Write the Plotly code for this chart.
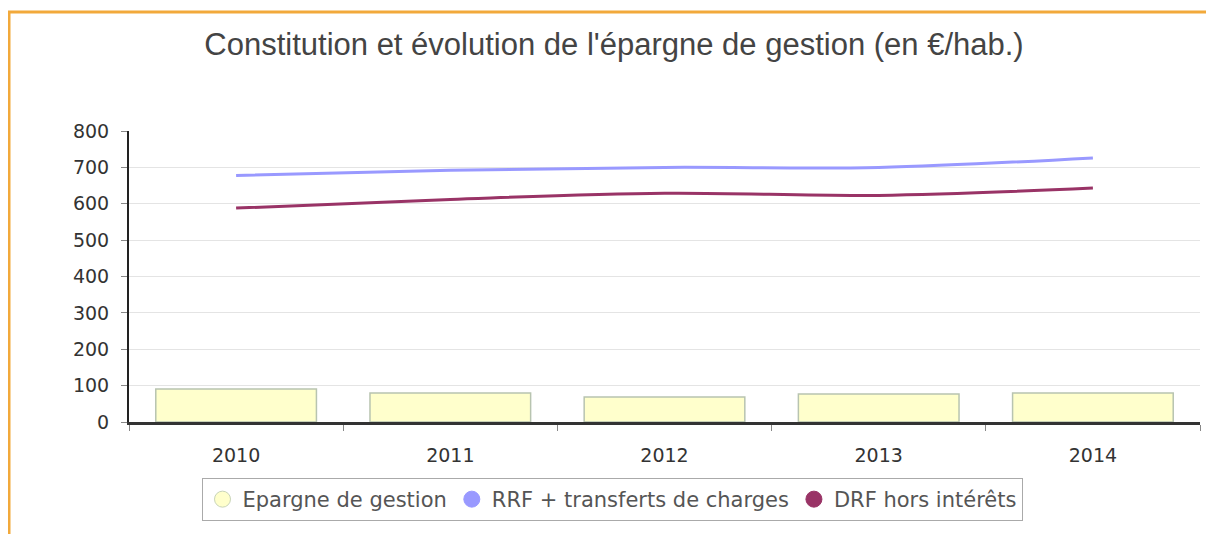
import plotly.graph_objects as go

years = ["2010", "2011", "2012", "2013", "2014"]
epargne = [91, 80, 69, 77, 80]
rrf = [678, 692, 700, 700, 726]
drf = [588, 612, 629, 623, 643]

OFF = 8  # page body margin
W, H = 1214 - OFF, 534 - OFF
L, T = 129 - OFF, 131 - OFF
R = W - (1200 - OFF)
B = H - (422 - OFF)
pw = W - L - R
ph = H - T - B


def px_x(x):
    return (x - OFF - L) / pw


def px_y(y):
    return 1 - (y - OFF - T) / ph


fig = go.Figure()
fig.add_trace(go.Bar(x=years, y=epargne, name="Epargne de gestion", width=0.75,
                     marker=dict(color="#FFFFCC", line=dict(color="#B8C4B0", width=1.5)),
                     showlegend=False))
fig.add_trace(go.Scatter(x=years, y=rrf, mode="lines", name="RRF + transferts de charges",
                         line=dict(color="#9999FF", width=3, shape="spline"), showlegend=False))
fig.add_trace(go.Scatter(x=years, y=drf, mode="lines", name="DRF hors intérêts",
                         line=dict(color="#993366", width=3, shape="spline"), showlegend=False))

# legend entries with circle markers
for name, col, lc in [("Epargne de gestion", "#FFFFCC", "#C8D4B8"),
                      ("RRF + transferts de charges", "#9999FF", "#9999FF"),
                      ("DRF hors intérêts", "#993366", "#993366")]:
    fig.add_trace(go.Scatter(x=[None], y=[None], mode="markers", name=name,
                             marker=dict(symbol="circle", size=17, color=col,
                                         line=dict(color=lc, width=1))))

# orange frame
fig.add_shape(type="rect", xref="paper", yref="paper",
              x0=px_x(9), x1=px_x(1210), y0=px_y(560), y1=px_y(12),
              line=dict(color="#F2A93B", width=3), fillcolor="rgba(0,0,0,0)", layer="below")

fig.update_layout(
    width=W, height=H,
    margin=dict(l=L, r=R, t=T, b=B),
    paper_bgcolor="white", plot_bgcolor="white",
    title=dict(text="Constitution et évolution de l'épargne de gestion (en €/hab.)",
               x=(614 - OFF) / W, xanchor="center", y=1 - (44 - OFF) / H, yanchor="middle",
               xref="container", yref="container",
               font=dict(family="Liberation Sans, Arial", size=31, color="#444444")),
    font=dict(family="DejaVu Sans, Verdana", size=19, color="#333333"),
    showlegend=True,
    legend=dict(orientation="h", x=px_x(612), xanchor="center",
                y=px_y(478), yanchor="top",
                bordercolor="#AAAAAA", borderwidth=1, bgcolor="white",
                font=dict(family="DejaVu Sans, Verdana", size=21, color="#555555"),
                itemsizing="trace"),
    bargap=0.25,
)
fig.update_xaxes(type="category", showline=True, linecolor="#333333", linewidth=3,
                 ticks="outside", tickson="boundaries", ticklen=6, tickcolor="#888888",
                 ticklabelstandoff=14,
                 showgrid=False, tickfont=dict(size=19, color="#333333"))
fig.update_yaxes(range=[0, 800], dtick=100, showline=True, linecolor="#222222", linewidth=2,
                 ticks="outside", ticklen=6, tickcolor="#888888",
                 ticklabelstandoff=8,
                 gridcolor="#E4E4E4", gridwidth=1, zeroline=False,
                 tickfont=dict(size=19, color="#333333"))

fig.write_html("out.html")
